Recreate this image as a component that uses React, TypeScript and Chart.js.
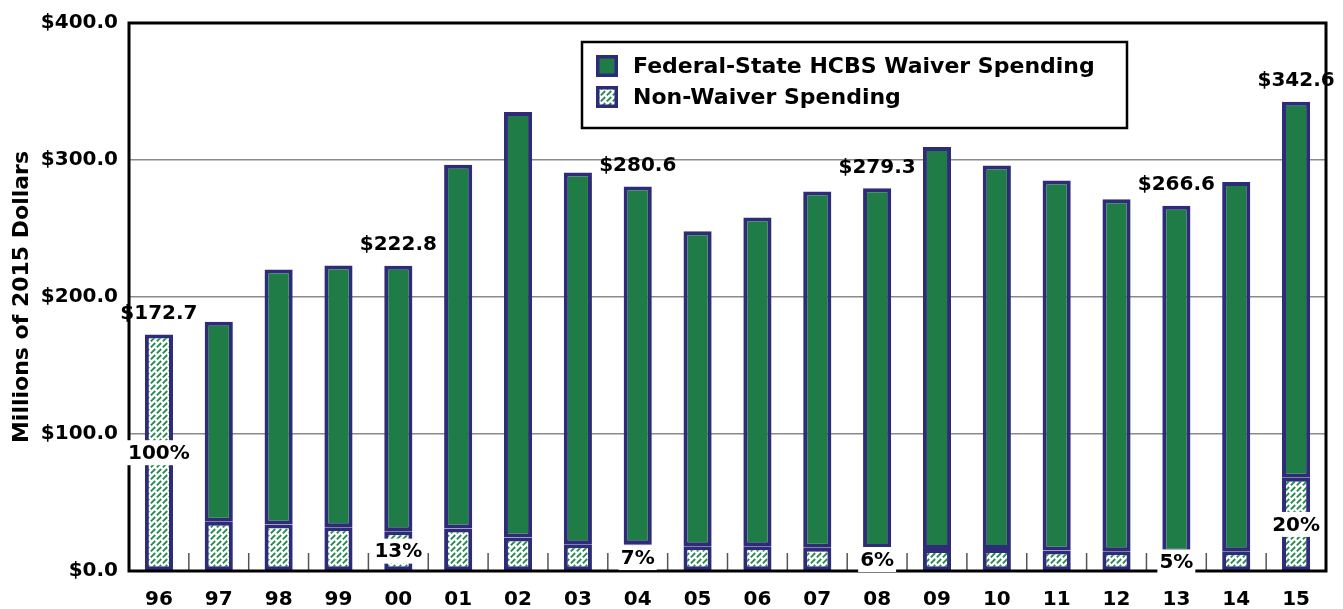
import React, { useEffect, useRef } from 'react';
import { Chart, registerables } from 'chart.js';

Chart.register(...registerables);

const categories = ['96', '97', '98', '99', '00', '01', '02', '03', '04', '05', '06', '07', '08', '09', '10', '11', '12', '13', '14', '15'];
const totalSpending = [172.7, 182, 220, 223, 222.8, 296.5, 335, 290.8, 280.6, 248, 258, 277, 279.3, 309.5, 296, 285, 271.3, 266.6, 284, 342.6];
const nonWaiverSpending = [172.7, 36, 34, 32, 29, 31, 24.5, 19.5, 19.6, 18, 18, 17, 16.8, 16, 16, 15, 14.5, 13.3, 14.5, 68];
const totalLabels = ['$172.7', '', '', '', '$222.8', '', '', '', '$280.6', '', '', '', '$279.3', '', '', '', '', '$266.6', '', '$342.6'];
const shareLabels = ['100%', '', '', '', '13%', '', '', '', '7%', '', '', '', '6%', '', '', '', '', '5%', '', '20%'];
const legendLabels = ['Federal-State HCBS Waiver Spending', 'Non-Waiver Spending'];
const yAxisTitle = 'Millions of 2015 Dollars';

const GREEN = '#1f7c47';
const NAVY = '#2e2b78';
const FONT = 'DejaVu Sans';

function makeHatch(): CanvasPattern | string {
  const p = document.createElement('canvas');
  p.width = 6;
  p.height = 6;
  const c = p.getContext('2d');
  if (!c) return '#fff';
  c.fillStyle = '#ffffff';
  c.fillRect(0, 0, 6, 6);
  c.strokeStyle = '#228a4c';
  c.lineWidth = 1.8;
  c.lineCap = 'butt';
  c.beginPath();
  c.moveTo(0.8, 5.4);
  c.lineTo(5.2, 1);
  c.stroke();
  const pat = c.createPattern(p, 'repeat');
  return pat || '#fff';
}

export default function App() {
  const ref = useRef<HTMLCanvasElement | null>(null);

  useEffect(() => {
    document.body.style.margin = '0';
    const canvas = ref.current;
    if (!canvas) return;
    const hatch = makeHatch();
    const waiver = totalSpending.map((t, i) => {
      const d = +(t - nonWaiverSpending[i]).toFixed(2);
      return d > 0 ? d : null;
    });

    const decorations = {
      id: 'decorations',
      beforeDatasetsDraw(chart: any) {
        const { ctx, chartArea, scales } = chart;
        const x = scales.x;
        ctx.save();
        ctx.strokeStyle = '#555';
        ctx.lineWidth = 1.5;
        for (let i = 0; i < categories.length - 1; i++) {
          const px = (x.getPixelForValue(i) + x.getPixelForValue(i + 1)) / 2;
          ctx.beginPath();
          ctx.moveTo(px, chartArea.bottom);
          ctx.lineTo(px, chartArea.bottom - 18);
          ctx.stroke();
        }
        ctx.restore();
      },
      afterDatasetsDraw(chart: any) {
        const { ctx, chartArea } = chart;
        ctx.save();
        ctx.strokeStyle = '#000';
        ctx.lineWidth = 3;
        ctx.strokeRect(chartArea.left, chartArea.top, chartArea.right - chartArea.left, chartArea.bottom - chartArea.top);
        ctx.restore();
      },
      afterDraw(chart: any) {
        const { ctx, chartArea, scales } = chart;
        const x = scales.x;
        const y = scales.y;
        ctx.save();
        ctx.font = `bold 20px "${FONT}"`;
        ctx.textAlign = 'center';
        ctx.textBaseline = 'middle';
        ctx.fillStyle = '#000';
        totalLabels.forEach((lab, i) => {
          if (!lab) return;
          const px = x.getPixelForValue(i);
          const py = y.getPixelForValue(totalSpending[i]) - 21;
          ctx.fillText(lab, px, py);
        });
        shareLabels.forEach((lab, i) => {
          if (!lab) return;
          const px = x.getPixelForValue(i);
          const py = (y.getPixelForValue(0) + y.getPixelForValue(nonWaiverSpending[i])) / 2;
          const w = ctx.measureText(lab).width + 4;
          ctx.fillStyle = '#fff';
          ctx.fillRect(px - w / 2, py - 12.5, w, 25);
          ctx.fillStyle = '#000';
          ctx.fillText(lab, px, py + 1);
        });
        const lx = chartArea.left + 453;
        const ly = chartArea.top + 19;
        const lw = 545;
        const lh = 86;
        ctx.fillStyle = '#fff';
        ctx.fillRect(lx, ly, lw, lh);
        ctx.strokeStyle = '#000';
        ctx.lineWidth = 2.5;
        ctx.strokeRect(lx, ly, lw, lh);
        const fills = [GREEN, hatch];
        legendLabels.forEach((lab, i) => {
          const cy = ly + 24 + i * 31;
          ctx.fillStyle = fills[i] as any;
          ctx.fillRect(lx + 14, cy - 11, 22, 22);
          ctx.strokeStyle = NAVY;
          ctx.lineWidth = 3.5;
          ctx.strokeRect(lx + 15.75, cy - 9.25, 18.5, 18.5);
          ctx.fillStyle = '#000';
          ctx.font = `bold 22px "${FONT}"`;
          ctx.textAlign = 'left';
          ctx.textBaseline = 'middle';
          ctx.fillText(lab, lx + 51, cy + 1);
        });
        ctx.restore();
      },
    };

    const chart = new Chart(canvas, {
      type: 'bar',
      data: {
        labels: categories,
        datasets: [
          {
            label: legendLabels[1],
            data: nonWaiverSpending,
            backgroundColor: hatch as any,
            borderColor: NAVY,
            borderWidth: 4,
            borderSkipped: false,
            barPercentage: 0.47,
            categoryPercentage: 1,
          },
          {
            label: legendLabels[0],
            data: waiver,
            backgroundColor: GREEN,
            borderColor: NAVY,
            borderWidth: 4,
            borderSkipped: false,
            barPercentage: 0.47,
            categoryPercentage: 1,
          },
        ],
      },
      options: {
        animation: false,
        responsive: false,
        devicePixelRatio: 1,
        layout: { padding: { top: 19, right: 17, bottom: 0, left: 0 } },
        plugins: {
          legend: { display: false },
          tooltip: { enabled: false },
        },
        scales: {
          x: {
            stacked: true,
            offset: true,
            grid: { display: false },
            border: { display: false },
            ticks: {
              color: '#000',
              font: { family: FONT, weight: 'bold', size: 20 },
              padding: 9,
              maxRotation: 0,
              autoSkip: false,
            },
            afterFit: (s: any) => {
              s.height = 38;
            },
          },
          y: {
            stacked: true,
            min: 0,
            max: 400,
            grid: { color: '#8a8a8a', lineWidth: 1.5, drawTicks: false },
            border: { display: false },
            ticks: {
              stepSize: 100,
              color: '#000',
              font: { family: FONT, weight: 'bold', size: 20 },
              padding: 11,
              callback: (v: any) => '$' + Number(v).toFixed(1),
            },
            title: {
              display: true,
              text: yAxisTitle,
              color: '#000',
              font: { family: FONT, weight: 'bold', size: 22 },
              padding: { top: 9, bottom: 0 },
            },
            afterFit: (s: any) => {
              s.width = 129;
            },
          },
        },
      },
      plugins: [decorations],
    });

    return () => {
      chart.destroy();
    };
  }, []);

  return (
    <div style={{ width: 1343, height: 609 }}>
      <canvas ref={ref} width={1343} height={609} style={{ display: 'block' }} />
    </div>
  );
}
